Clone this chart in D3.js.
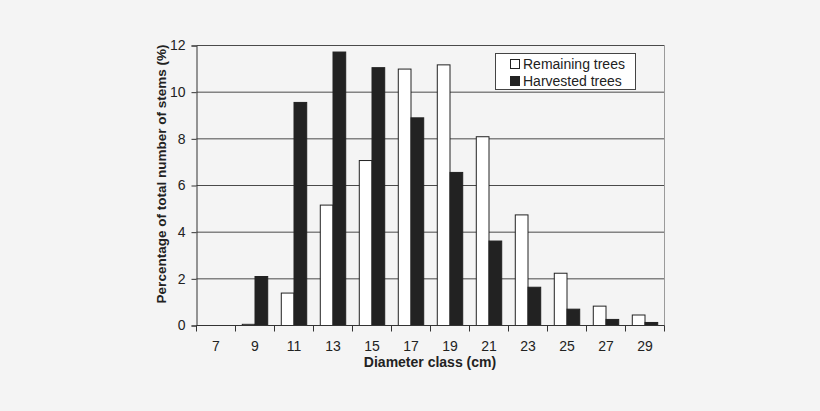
<!DOCTYPE html>
<html><head><meta charset="utf-8">
<script src="https://cdn.jsdelivr.net/npm/d3@7"></script>
<style>html,body{margin:0;padding:0;background:#f4f4f4;}svg{display:block;font-family:"Liberation Sans",Arial,sans-serif;}</style>
</head><body>
<script>
const categories = ["7","9","11","13","15","17","19","21","23","25","27","29"];
const remaining = [0, 0.05, 1.39, 5.16, 7.07, 10.99, 11.17, 8.09, 4.74, 2.24, 0.83, 0.45];
const harvested = [0, 2.10, 9.56, 11.72, 11.05, 8.90, 6.56, 3.62, 1.64, 0.70, 0.26, 0.13];
const seriesNames = ["Remaining trees", "Harvested trees"];
const yTicks = [0, 2, 4, 6, 8, 10, 12];

const W = 820, H = 411;
const m = {left: 196.5, right: 820 - 664.5, top: 45.5, bottom: 411 - 325.5};
const svg = d3.select("body").append("svg").attr("width", W).attr("height", H);

const x = d3.scaleBand().domain(categories).range([m.left, W - m.right]).paddingInner(0).paddingOuter(0);
const y = d3.scaleLinear().domain([0, 12]).range([H - m.bottom, m.top]);
const bw = x.bandwidth() * 0.326;

// gridlines
svg.append("g").selectAll("line").data(yTicks.filter(d => d > 0)).join("line")
  .attr("x1", m.left).attr("x2", W - m.right)
  .attr("y1", d => y(d)).attr("y2", d => y(d))
  .attr("stroke", "#4a4a4a").attr("stroke-width", 1);
// right border
svg.append("line").attr("x1", W - m.right).attr("x2", W - m.right)
  .attr("y1", m.top).attr("y2", H - m.bottom).attr("stroke", "#9a9a9a");

// bars
const g = svg.append("g");
g.selectAll("rect.rem").data(categories).join("rect").attr("class", "rem")
  .attr("x", d => x(d) + x.bandwidth() / 2 - bw)
  .attr("width", bw)
  .attr("y", (d, i) => y(remaining[i]))
  .attr("height", (d, i) => y(0) - y(remaining[i]))
  .attr("fill", "#ffffff").attr("stroke", "#222").attr("stroke-width", 1)
  .style("display", (d, i) => remaining[i] > 0 ? null : "none");
g.selectAll("rect.har").data(categories).join("rect").attr("class", "har")
  .attr("x", d => x(d) + x.bandwidth() / 2)
  .attr("width", bw)
  .attr("y", (d, i) => y(harvested[i]))
  .attr("height", (d, i) => y(0) - y(harvested[i]))
  .attr("fill", "#222222").attr("stroke", "#222").attr("stroke-width", 1)
  .style("display", (d, i) => harvested[i] > 0 ? null : "none");

// y axis
const ya = svg.append("g").attr("transform", `translate(${m.left},0)`)
  .call(d3.axisLeft(y).tickValues(yTicks).tickSize(5).tickPadding(6));
ya.select(".domain").attr("stroke", "#333");
ya.selectAll(".tick line").attr("stroke", "#333");
ya.selectAll("text").attr("font-size", 14).attr("fill", "#222").attr("font-family", "Liberation Sans, Arial, sans-serif");

// x axis
const xa = svg.append("g").attr("transform", `translate(0,${H - m.bottom})`);
xa.append("line").attr("x1", m.left).attr("x2", W - m.right).attr("y1", 0).attr("y2", 0).attr("stroke", "#333");
const bounds = categories.map(c => x(c)).concat([W - m.right]);
xa.selectAll("line.tk").data(bounds).join("line").attr("class", "tk")
  .attr("x1", d => d).attr("x2", d => d).attr("y1", 0).attr("y2", 6).attr("stroke", "#333");
xa.selectAll("text").data(categories).join("text")
  .attr("x", d => x(d) + x.bandwidth() / 2).attr("y", 25)
  .attr("text-anchor", "middle").attr("font-size", 14).attr("fill", "#222").text(d => d);

// axis titles
svg.append("text").attr("x", 430).attr("y", 367)
  .attr("text-anchor", "middle").attr("font-size", 14).attr("font-weight", "bold").attr("fill", "#222")
  .text("Diameter class (cm)");
svg.append("text").attr("transform", `translate(166,174) rotate(-90)`)
  .attr("text-anchor", "middle").attr("font-size", 13.5).attr("font-weight", "bold").attr("fill", "#222")
  .text("Percentage of total number of stems (%)");

// legend
const lg = svg.append("g");
lg.append("rect").attr("x", 495.5).attr("y", 53.5).attr("width", 140).attr("height", 36)
  .attr("fill", "#fff").attr("stroke", "#444");
const fills = ["#ffffff", "#222222"];
seriesNames.forEach((n, i) => {
  lg.append("rect").attr("x", 510.5).attr("y", 59.5 + i * 17).attr("width", 9).attr("height", 9)
    .attr("fill", fills[i]).attr("stroke", "#222");
  lg.append("text").attr("x", 523).attr("y", 68.5 + i * 17).attr("font-size", 14).attr("fill", "#222").text(n);
});
</script>
</body></html>
